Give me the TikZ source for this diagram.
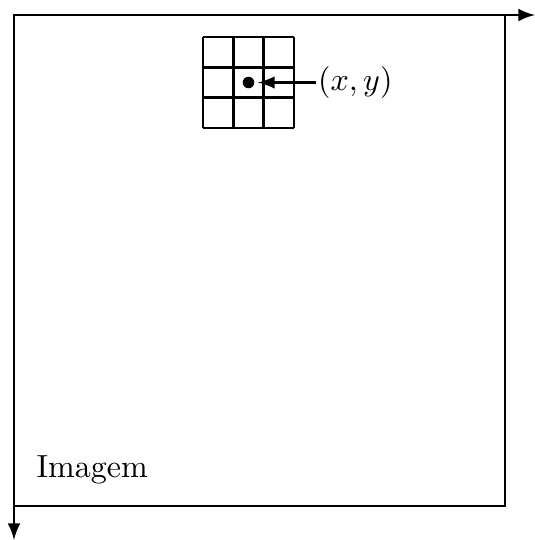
\documentclass[tikz,border=0pt]{standalone}
\usepackage{amsmath,amssymb}
\usepackage{tikz}
\usepackage{xcolor}

\begin{document}
\begin{tikzpicture}[x=0.3125pt,y=-0.3125pt]
\useasboundingbox (0,0) rectangle (535,540);
\coordinate (o) at (14,15);
\coordinate (xend) at (535,15);
\coordinate (yend) at (14,540);
\draw[semithick] (o) rectangle (505,506);
\draw[thick,-latex] (o)--(xend);\draw[thick,-latex] (o)--(yend);
\foreach \i in {0,...,3} {
\draw[thick] (203+30.33*\i,37)--(203+30.33*\i,128);
\draw[thick] (203,37+30.33*\i)--(294,37+30.33*\i);
}
\node[circle,fill,inner sep=0pt,minimum size=3.6pt] (pt) at (248.5,82.5) {};
\node[anchor=west,inner sep=0.5pt] (lbl) at (316,82.5) {$(x,y)$};
\draw[thick,-latex,shorten >=1pt] (lbl.west)--(pt.east);
\node[anchor=base west,inner sep=0pt] (img) at (36,477) {Imagem};
\end{tikzpicture}
\end{document}
